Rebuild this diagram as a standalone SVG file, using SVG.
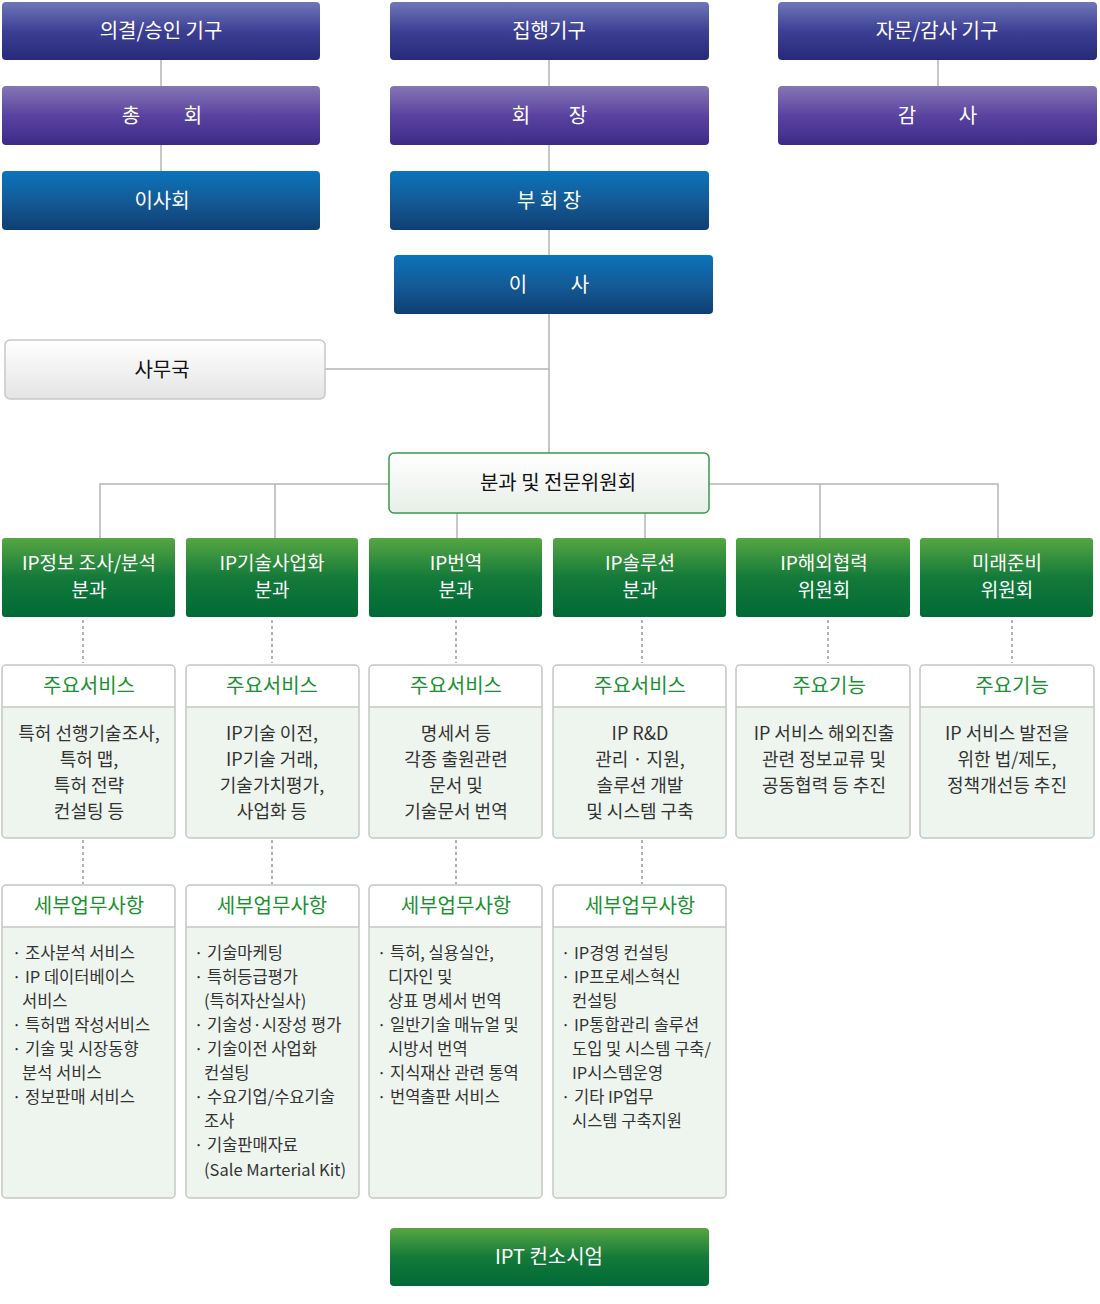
<svg xmlns="http://www.w3.org/2000/svg" width="1100" height="1304" viewBox="0 0 1100 1304">
<defs>
<linearGradient id="gNavy" x1="0" y1="0" x2="0" y2="1"><stop offset="0" stop-color="#6f77b8"/><stop offset="0.5" stop-color="#3d3f94"/><stop offset="1" stop-color="#262a78"/></linearGradient>
<linearGradient id="gPurple" x1="0" y1="0" x2="0" y2="1"><stop offset="0" stop-color="#8576b4"/><stop offset="0.5" stop-color="#5a43a0"/><stop offset="1" stop-color="#3d2b88"/></linearGradient>
<linearGradient id="gBlue" x1="0" y1="0" x2="0" y2="1"><stop offset="0" stop-color="#0a74ba"/><stop offset="0.5" stop-color="#145b98"/><stop offset="1" stop-color="#0f3f72"/></linearGradient>
<linearGradient id="gGreen" x1="0" y1="0" x2="0" y2="1"><stop offset="0" stop-color="#56a642"/><stop offset="0.5" stop-color="#147a3a"/><stop offset="1" stop-color="#006a36"/></linearGradient>
<linearGradient id="gGrey" x1="0" y1="0" x2="0" y2="1"><stop offset="0" stop-color="#ffffff"/><stop offset="1" stop-color="#e4e4e4"/></linearGradient>
<linearGradient id="gLight" x1="0" y1="0" x2="0" y2="1"><stop offset="0" stop-color="#ffffff"/><stop offset="1" stop-color="#e8eee8"/></linearGradient>
</defs>
<style>
text{font-family:"Noto Sans CJK KR","Noto Sans",sans-serif}
.w{fill:#fff;font-size:20px;text-anchor:middle}
.g{fill:#fff;font-size:19px;text-anchor:middle}
.b{fill:#111;font-size:20px;text-anchor:middle}
.h{fill:#1a9130;font-size:20px;text-anchor:middle}
.t{fill:#333;font-size:18px;text-anchor:middle}
.d{fill:#333;font-size:16.5px}
.ln{stroke:#b5b5b5;stroke-width:1.5;fill:none}
.dt{stroke:#999;stroke-width:1.5;stroke-dasharray:3 3;fill:none}
.card{fill:#eef5ee;stroke:#c4c8c4;stroke-width:1.5}
.hd{fill:#fff}
.sep{stroke:#c4c8c4;stroke-width:1.5}
</style>
<g id="connectors">
<path class="ln" d="M161 60V171M549 60V255M938 60V86M549 314V453M325 369H549M100 538V484H998V538M275 484V538M457 513V538M645 513V538M820 484V538"/>
<path class="dt" d="M83 620V663M272 620V663M456 620V663M642 620V663M828 620V663M1012 620V663M83 840V884M272 840V884M456 840V884M642 840V884"/>
</g>
<g id="n1"><rect x="2" y="2" width="318" height="58" rx="4" fill="url(#gNavy)"/><text class="w" x="161" y="38">의결/승인 기구</text></g>
<g id="n2"><rect x="390" y="2" width="319" height="58" rx="4" fill="url(#gNavy)"/><text class="w" x="549" y="38">집행기구</text></g>
<g id="n3"><rect x="778" y="2" width="319" height="58" rx="4" fill="url(#gNavy)"/><text class="w" x="937" y="38">자문/감사 기구</text></g>
<g id="n4"><rect x="2" y="86" width="318" height="59" rx="4" fill="url(#gPurple)"/><text class="w" x="131" y="123">총</text><text class="w" x="193" y="123">회</text></g>
<g id="n5"><rect x="390" y="86" width="319" height="59" rx="4" fill="url(#gPurple)"/><text class="w" x="521" y="123">회</text><text class="w" x="578" y="123">장</text></g>
<g id="n6"><rect x="778" y="86" width="319" height="59" rx="4" fill="url(#gPurple)"/><text class="w" x="907" y="123">감</text><text class="w" x="968" y="123">사</text></g>
<g id="n7"><rect x="2" y="171" width="318" height="59" rx="4" fill="url(#gBlue)"/><text class="w" x="162" y="208">이사회</text></g>
<g id="n8"><rect x="390" y="171" width="319" height="59" rx="4" fill="url(#gBlue)"/><text class="w" x="549" y="208">부 회 장</text></g>
<g id="n9"><rect x="394" y="255" width="319" height="59" rx="4" fill="url(#gBlue)"/><text class="w" x="518" y="292">이</text><text class="w" x="580" y="292">사</text></g>
<g id="n10"><rect x="5" y="340" width="320" height="59" rx="5" fill="url(#gGrey)" stroke="#c8c8c8" stroke-width="1.5"/><text class="b" x="162" y="377">사무국</text></g>
<g id="n11"><rect x="389" y="453" width="320" height="60" rx="5" fill="url(#gLight)" stroke="#3a9a4a" stroke-width="1.5"/><text class="b" x="558" y="490">분과 및 전문위원회</text></g>
<g id="g1"><rect x="2" y="538" width="173" height="79" rx="3" fill="url(#gGreen)"/><text class="g" x="89" y="570">IP정보 조사/분석</text><text class="g" x="89" y="597">분과</text></g>
<g id="g2"><rect x="186" y="538" width="172" height="79" rx="3" fill="url(#gGreen)"/><text class="g" x="272" y="570">IP기술사업화</text><text class="g" x="272" y="597">분과</text></g>
<g id="g3"><rect x="369" y="538" width="173" height="79" rx="3" fill="url(#gGreen)"/><text class="g" x="456" y="570">IP번역</text><text class="g" x="456" y="597">분과</text></g>
<g id="g4"><rect x="553" y="538" width="173" height="79" rx="3" fill="url(#gGreen)"/><text class="g" x="640" y="570">IP솔루션</text><text class="g" x="640" y="597">분과</text></g>
<g id="g5"><rect x="736" y="538" width="174" height="79" rx="3" fill="url(#gGreen)"/><text class="g" x="824" y="570">IP해외협력</text><text class="g" x="824" y="597">위원회</text></g>
<g id="g6"><rect x="920" y="538" width="173" height="79" rx="3" fill="url(#gGreen)"/><text class="g" x="1007" y="570">미래준비</text><text class="g" x="1007" y="597">위원회</text></g>
<g id="s1"><rect class="card" x="2" y="665" width="173" height="173" rx="4"/><path class="hd" d="M3 707V669a3 3 0 0 1 3-3H171a3 3 0 0 1 3 3V707Z"/><line class="sep" x1="2" y1="707" x2="175" y2="707"/><text class="h" x="89" y="693">주요서비스</text>
<text class="t" x="89" y="740">특허 선행기술조사,</text><text class="t" x="89" y="766">특허 맵,</text><text class="t" x="89" y="792">특허 전략</text><text class="t" x="89" y="818">컨설팅 등</text></g>
<g id="s2"><rect class="card" x="186" y="665" width="173" height="173" rx="4"/><path class="hd" d="M187 707V669a3 3 0 0 1 3-3H355a3 3 0 0 1 3 3V707Z"/><line class="sep" x1="186" y1="707" x2="359" y2="707"/><text class="h" x="272" y="693">주요서비스</text>
<text class="t" x="272" y="740">IP기술 이전,</text><text class="t" x="272" y="766">IP기술 거래,</text><text class="t" x="272" y="792">기술가치평가,</text><text class="t" x="272" y="818">사업화 등</text></g>
<g id="s3"><rect class="card" x="369" y="665" width="173" height="173" rx="4"/><path class="hd" d="M370 707V669a3 3 0 0 1 3-3H538a3 3 0 0 1 3 3V707Z"/><line class="sep" x1="369" y1="707" x2="542" y2="707"/><text class="h" x="456" y="693">주요서비스</text>
<text class="t" x="456" y="740">명세서 등</text><text class="t" x="456" y="766">각종 출원관련</text><text class="t" x="456" y="792">문서 및</text><text class="t" x="456" y="818">기술문서 번역</text></g>
<g id="s4"><rect class="card" x="553" y="665" width="173" height="173" rx="4"/><path class="hd" d="M554 707V669a3 3 0 0 1 3-3H722a3 3 0 0 1 3 3V707Z"/><line class="sep" x1="553" y1="707" x2="726" y2="707"/><text class="h" x="640" y="693">주요서비스</text>
<text class="t" x="640" y="740">IP R&amp;D</text><text class="t" x="640" y="766">관리 · 지원,</text><text class="t" x="640" y="792">솔루션 개발</text><text class="t" x="640" y="818">및 시스템 구축</text></g>
<g id="s5"><rect class="card" x="736" y="665" width="174" height="173" rx="4"/><path class="hd" d="M737 707V669a3 3 0 0 1 3-3H906a3 3 0 0 1 3 3V707Z"/><line class="sep" x1="736" y1="707" x2="910" y2="707"/><text class="h" x="829" y="693">주요기능</text>
<text class="t" x="824" y="740">IP 서비스 해외진출</text><text class="t" x="824" y="766">관련 정보교류 및</text><text class="t" x="824" y="792">공동협력 등 추진</text></g>
<g id="s6"><rect class="card" x="920" y="665" width="174" height="173" rx="4"/><path class="hd" d="M921 707V669a3 3 0 0 1 3-3H1090a3 3 0 0 1 3 3V707Z"/><line class="sep" x1="920" y1="707" x2="1094" y2="707"/><text class="h" x="1012" y="693">주요기능</text>
<text class="t" x="1007" y="740">IP 서비스 발전을</text><text class="t" x="1007" y="766">위한 법/제도,</text><text class="t" x="1007" y="792">정책개선등 추진</text></g>
<g id="d1"><rect class="card" x="2" y="885" width="173" height="313" rx="4"/><path class="hd" d="M3 927V889a3 3 0 0 1 3-3H171a3 3 0 0 1 3 3V927Z"/><line class="sep" x1="2" y1="927" x2="175" y2="927"/><text class="h" x="89" y="913">세부업무사항</text>
<text class="d" x="12" y="959">· 조사분석 서비스</text><text class="d" x="12" y="983">· IP 데이터베이스</text><text class="d" x="22" y="1007">서비스</text><text class="d" x="12" y="1031">· 특허맵 작성서비스</text><text class="d" x="12" y="1055">· 기술 및 시장동향</text><text class="d" x="22" y="1079">분석 서비스</text><text class="d" x="12" y="1103">· 정보판매 서비스</text></g>
<g id="d2"><rect class="card" x="186" y="885" width="173" height="313" rx="4"/><path class="hd" d="M187 927V889a3 3 0 0 1 3-3H355a3 3 0 0 1 3 3V927Z"/><line class="sep" x1="186" y1="927" x2="359" y2="927"/><text class="h" x="272" y="913">세부업무사항</text>
<text class="d" x="194" y="959">· 기술마케팅</text><text class="d" x="194" y="983">· 특허등급평가</text><text class="d" x="204" y="1007">(특허자산실사)</text><text class="d" x="194" y="1031">· 기술성·시장성 평가</text><text class="d" x="194" y="1055">· 기술이전 사업화</text><text class="d" x="204" y="1079">컨설팅</text><text class="d" x="194" y="1103">· 수요기업/수요기술</text><text class="d" x="204" y="1127">조사</text><text class="d" x="194" y="1151">· 기술판매자료</text><text class="d" x="204" y="1176">(Sale Marterial Kit)</text></g>
<g id="d3"><rect class="card" x="369" y="885" width="173" height="313" rx="4"/><path class="hd" d="M370 927V889a3 3 0 0 1 3-3H538a3 3 0 0 1 3 3V927Z"/><line class="sep" x1="369" y1="927" x2="542" y2="927"/><text class="h" x="456" y="913">세부업무사항</text>
<text class="d" x="377" y="959">· 특허, 실용실안,</text><text class="d" x="388" y="983">디자인 및</text><text class="d" x="388" y="1007">상표 명세서 번역</text><text class="d" x="377" y="1031">· 일반기술 매뉴얼 및</text><text class="d" x="388" y="1055">시방서 번역</text><text class="d" x="377" y="1079">· 지식재산 관련 통역</text><text class="d" x="377" y="1103">· 번역출판 서비스</text></g>
<g id="d4"><rect class="card" x="553" y="885" width="173" height="313" rx="4"/><path class="hd" d="M554 927V889a3 3 0 0 1 3-3H722a3 3 0 0 1 3 3V927Z"/><line class="sep" x1="553" y1="927" x2="726" y2="927"/><text class="h" x="640" y="913">세부업무사항</text>
<text class="d" x="561" y="959">· IP경영 컨설팅</text><text class="d" x="561" y="983">· IP프로세스혁신</text><text class="d" x="572" y="1007">컨설팅</text><text class="d" x="561" y="1031">· IP통합관리 솔루션</text><text class="d" x="572" y="1055">도입 및 시스템 구축/</text><text class="d" x="572" y="1079">IP시스템운영</text><text class="d" x="561" y="1103">· 기타 IP업무</text><text class="d" x="572" y="1127">시스템 구축지원</text></g>
<g id="n12"><rect x="390" y="1228" width="319" height="58" rx="4" fill="url(#gGreen)"/><text class="w" x="549" y="1264">IPT 컨소시엄</text></g>
</svg>
